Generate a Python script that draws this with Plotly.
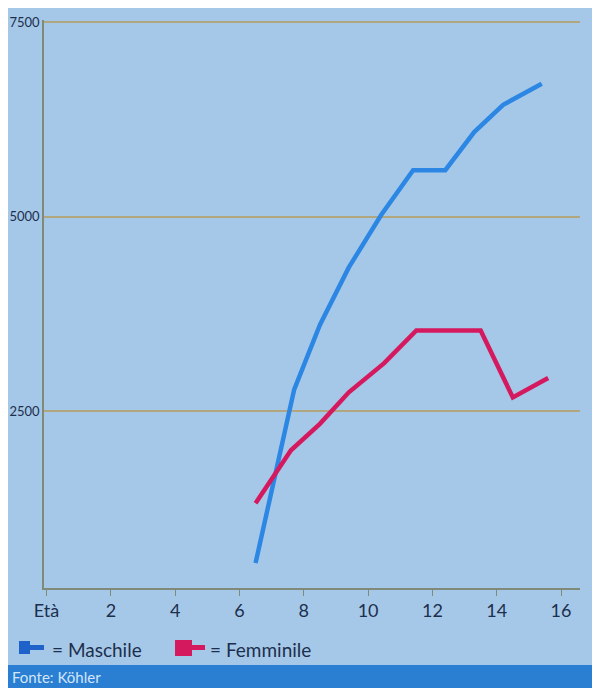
import plotly.graph_objects as go

# Data (age in years, value)
eta_m = [6.5, 7.7, 8.5, 9.4, 10.4, 11.4, 12.4, 13.3, 14.2, 15.4]
val_m = [550, 2780, 3610, 4350, 5020, 5600, 5600, 6090, 6440, 6710]
eta_f = [6.5, 7.6, 8.5, 9.4, 10.5, 11.5, 13.5, 14.5, 15.6]
val_f = [1320, 2000, 2340, 2745, 3120, 3540, 3540, 2680, 2930]

x_ticks = [0, 2, 4, 6, 8, 10, 12, 14, 16]
x_labels = ["Età", "2", "4", "6", "8", "10", "12", "14", "16"]
y_ticks = [2500, 5000, 7500]
y_labels = ["2500", "5000", "7500"]

OFF = 8  # page body margin
W, H = 600 - OFF, 688 - OFF
L, R, T, B = 44 - OFF, 20, 20 - OFF, 100
pw, ph = W - L - R, H - T - B

def px(x):  # x given in screen pixels
    return (x - OFF - L) / pw

def py(y):  # y given in screen pixels
    return (H - B - (y - OFF)) / ph

BLUE = "#2b87e3"
RED = "#d5195f"
TXT = "#1c2f4d"
FONT = "Lato"

fig = go.Figure()
fig.add_trace(go.Scatter(x=eta_m, y=val_m, mode="lines", name="Maschile",
                         line=dict(color=BLUE, width=4.5), showlegend=False))
fig.add_trace(go.Scatter(x=eta_f, y=val_f, mode="lines", name="Femminile",
                         line=dict(color=RED, width=4.5), showlegend=False))

shapes = []
# footer band
shapes.append(dict(type="rect", xref="paper", yref="paper", x0=px(OFF), x1=px(600),
                   y0=py(688), y1=py(665), fillcolor="#2a7fd3", line_width=0, layer="below"))
# legend icons
shapes.append(dict(type="rect", xref="paper", yref="paper", x0=px(19), x1=px(30),
                   y0=py(654), y1=py(641), fillcolor="#1f62c9", line_width=0))
shapes.append(dict(type="rect", xref="paper", yref="paper", x0=px(30), x1=px(44),
                   y0=py(650), y1=py(645), fillcolor="#1f62c9", line_width=0))
shapes.append(dict(type="rect", xref="paper", yref="paper", x0=px(175), x1=px(192),
                   y0=py(656), y1=py(640), fillcolor=RED, line_width=0))
shapes.append(dict(type="rect", xref="paper", yref="paper", x0=px(192), x1=px(205),
                   y0=py(650), y1=py(645), fillcolor=RED, line_width=0))

annotations = [
    dict(text="= Maschile", xref="paper", yref="paper", x=px(50), y=py(649),
         xanchor="left", yanchor="middle", showarrow=False,
         font=dict(family=FONT, size=19, color=TXT)),
    dict(text="= Femminile", xref="paper", yref="paper", x=px(208), y=py(649),
         xanchor="left", yanchor="middle", showarrow=False,
         font=dict(family=FONT, size=19, color=TXT)),
    dict(text="Fonte: Köhler", xref="paper", yref="paper", x=px(10), y=py(677),
         xanchor="left", yanchor="middle", showarrow=False,
         font=dict(family=FONT, size=15, color="#d3e6f8")),
]

fig.update_layout(
    width=W, height=H,
    margin=dict(l=L, r=R, t=T, b=B, autoexpand=False),
    paper_bgcolor="#a6c8e8",
    plot_bgcolor="#a6c8e8",
    showlegend=False,
    shapes=shapes,
    annotations=annotations,
    xaxis=dict(range=[-0.08, 16.59], tickvals=x_ticks, ticktext=x_labels,
               automargin=False,
               showgrid=False, zeroline=False, showline=True, linecolor="#7f8a78",
               linewidth=1.5, ticks="outside", ticklen=6, tickcolor="#7f8a78",
               tickfont=dict(family=FONT, size=18, color=TXT)),
    yaxis=dict(range=[230, 7530], tickvals=y_ticks, ticktext=y_labels,
               automargin=False,
               showgrid=True, gridcolor="#b2a67e", gridwidth=1.5, zeroline=False,
               showline=True, linecolor="#7f8a78", linewidth=1.5, ticks="",
               ticklabelstandoff=0,
               tickfont=dict(family=FONT, size=13, color=TXT)),
)

fig.write_html("out.html")
